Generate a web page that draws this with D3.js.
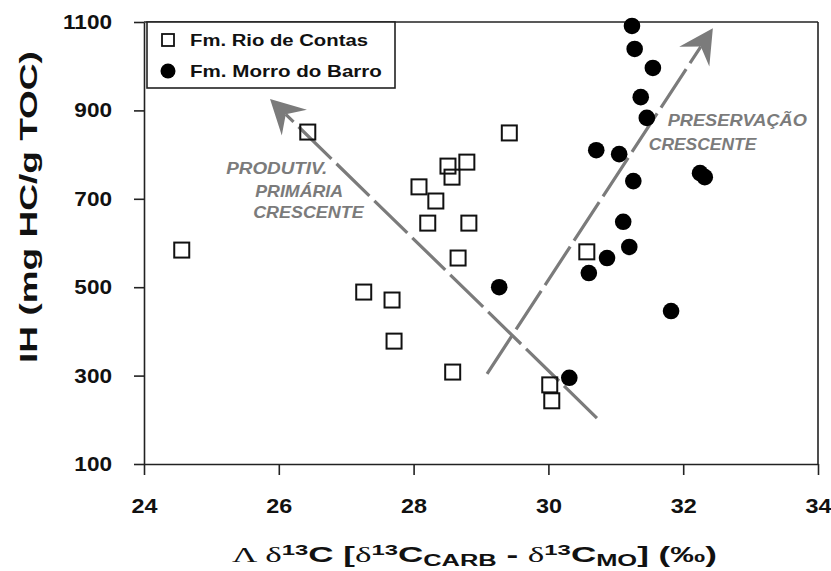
<!DOCTYPE html>
<html>
<head>
<meta charset="utf-8">
<script src="https://cdn.jsdelivr.net/npm/d3@7"></script>
<style>
  html, body { margin: 0; padding: 0; background: #fff; }
  svg { display: block; }
  text { font-family: "Liberation Sans", Arial, sans-serif; }
</style>
</head>
<body>
<svg id="chart" width="831" height="571"></svg>
<script>
// ---------------- DATA ----------------
const xTicks = [24, 26, 28, 30, 32, 34];
const yTicks = [100, 300, 500, 700, 900, 1100];

const seriesNames = ["Fm. Rio de Contas", "Fm. Morro do Barro"];

// Fm. Rio de Contas (open squares)
const rioX = [24.56, 26.43, 29.42, 28.51, 28.79, 28.57, 28.08, 28.33, 28.21, 28.82, 28.66, 27.26, 27.68, 27.71, 28.58, 30.02, 30.05, 30.57];
const rioY = [584, 851, 849, 774, 783, 749, 727, 695, 645, 645, 566, 489, 471, 378, 308, 279, 243, 580];

// Fm. Morro do Barro (filled circles)
const morroX = [31.24, 31.28, 31.55, 31.37, 31.46, 30.71, 31.05, 31.26, 32.25, 32.32, 31.11, 31.20, 30.87, 30.60, 29.27, 31.82, 30.31];
const morroY = [1091, 1039, 996, 930, 883, 810, 801, 740, 758, 749, 648, 591, 566, 532, 500, 446, 295];

// Trend arrows (tail -> tip, data coordinates)
const arrowProdTail = [30.72, 204];
const arrowProdTip  = [25.87, 926];
const arrowPresTail = [29.09, 304];
const arrowPresTip  = [32.44, 1086];

const labelProd = ["PRODUTIV.", "PRIMÁRIA", "CRESCENTE"];
const labelPres = ["PRESERVAÇÃO", "CRESCENTE"];

const yTitle = "IH (mg HC/g TOC)";

// ---------------- DRAW ----------------
const svg = d3.select("#chart");
const x = d3.scaleLinear().domain([24, 34]).range([144, 818]);
const y = d3.scaleLinear().domain([100, 1100]).range([464, 22]);

const AX = "#222";
const GRAY = "#7b7b7b";

function stretch(sel, w) {
  sel.each(function () {
    const bb = this.getBBox();
    const sx = w / bb.width;
    const cur = d3.select(this).attr("transform") || "";
    d3.select(this).attr("transform", cur + ` scale(${sx},1)`);
  });
}

// frame (top + right)
svg.append("line").attr("x1", x(24)).attr("x2", x(34)).attr("y1", y(1100)).attr("y2", y(1100))
  .attr("stroke", AX).attr("stroke-width", 1.6);
svg.append("line").attr("x1", x(34)).attr("x2", x(34)).attr("y1", y(1100)).attr("y2", y(100))
  .attr("stroke", AX).attr("stroke-width", 1.6);

// x axis
const gx = svg.append("g").attr("transform", `translate(0,${y(100)})`)
  .call(d3.axisBottom(x).tickValues(xTicks).tickSize(11).tickSizeOuter(0).tickFormat(d3.format("d")));
gx.select(".domain").attr("stroke", AX).attr("stroke-width", 1.6);
gx.selectAll(".tick line").attr("stroke", AX).attr("stroke-width", 1.6);
gx.selectAll(".tick text")
  .attr("y", 49).attr("dy", 0)
  .attr("font-size", 20).attr("font-weight", "bold").attr("fill", "#111")
  .attr("font-family", "Liberation Sans, Arial, sans-serif")
  .attr("transform", "scale(1.17,1)");

// y axis
const ysx = 1.13;
const gy = svg.append("g").attr("transform", `translate(${x(24)},0)`)
  .call(d3.axisLeft(y).tickValues(yTicks).tickSize(10).tickSizeOuter(0).tickFormat(d3.format("d")));
gy.select(".domain").attr("stroke", AX).attr("stroke-width", 1.6);
gy.selectAll(".tick line").attr("stroke", AX).attr("stroke-width", 1.6);
gy.selectAll(".tick text")
  .attr("x", -32 / ysx)
  .attr("font-size", 20).attr("font-weight", "bold").attr("fill", "#111")
  .attr("font-family", "Liberation Sans, Arial, sans-serif")
  .attr("transform", `scale(${ysx},1)`);

// arrows
function drawArrow(tail, tip) {
  const p0 = [x(tail[0]), y(tail[1])], p1 = [x(tip[0]), y(tip[1])];
  const dx = p0[0] - p1[0], dy = p0[1] - p1[1];
  const L = Math.hypot(dx, dy);
  const ux = dx / L, uy = dy / L;
  const px = -uy, py = ux;
  const notch = 22, back = 34, half = 18;
  svg.append("line")
    .attr("x1", p0[0]).attr("y1", p0[1])
    .attr("x2", p1[0] + ux * notch).attr("y2", p1[1] + uy * notch)
    .attr("stroke", GRAY).attr("stroke-width", 3.2)
    .attr("stroke-dasharray", "46,7");
  const pts = [
    [p1[0], p1[1]],
    [p1[0] + ux * back + px * half, p1[1] + uy * back + py * half],
    [p1[0] + ux * notch, p1[1] + uy * notch],
    [p1[0] + ux * back - px * half, p1[1] + uy * back - py * half]
  ];
  svg.append("path").attr("d", "M" + pts.map(p => p.join(",")).join("L") + "Z")
    .attr("fill", GRAY);
}
drawArrow(arrowProdTail, arrowProdTip);
drawArrow(arrowPresTail, arrowPresTip);

// annotation labels
function annot(txt, dxv, dyv, w) {
  const t = svg.append("text")
    .attr("transform", `translate(${x(dxv)},${y(dyv)})`)
    .attr("font-size", 16).attr("font-weight", "bold").attr("font-style", "italic")
    .attr("fill", GRAY).text(txt);
  stretch(t, w);
}
annot(labelProd[0], 25.22, 756, 101);
annot(labelProd[1], 25.65, 704, 88);
annot(labelProd[2], 25.62, 657, 112);
annot(labelPres[0], 31.77, 865, 140);
annot(labelPres[1], 31.49, 810, 109);

// points: squares
const sq = 15;
svg.append("g").selectAll("rect").data(rioX.map((d, i) => [d, rioY[i]])).join("rect")
  .attr("x", d => x(d[0]) - sq / 2).attr("y", d => y(d[1]) - sq / 2)
  .attr("width", sq).attr("height", sq)
  .attr("fill", "none").attr("stroke", "#111").attr("stroke-width", 2);

// points: circles
svg.append("g").selectAll("circle").data(morroX.map((d, i) => [d, morroY[i]])).join("circle")
  .attr("cx", d => x(d[0])).attr("cy", d => y(d[1])).attr("r", 8.3)
  .attr("fill", "#000");

// legend
const lg = svg.append("g");
lg.append("rect").attr("x", 147).attr("y", 22).attr("width", 248).attr("height", 66)
  .attr("fill", "#fff").attr("stroke", AX).attr("stroke-width", 1.6);
lg.append("rect").attr("x", 162).attr("y", 34).attr("width", 12).attr("height", 12)
  .attr("fill", "none").attr("stroke", "#111").attr("stroke-width", 1.8);
lg.append("circle").attr("cx", 168).attr("cy", 71).attr("r", 7.5).attr("fill", "#000");
const lt1 = lg.append("text").attr("transform", "translate(190,46)")
  .attr("font-size", 17).attr("font-weight", "bold").attr("fill", "#111").text(seriesNames[0]);
stretch(lt1, 178);
const lt2 = lg.append("text").attr("transform", "translate(190,77)")
  .attr("font-size", 17).attr("font-weight", "bold").attr("fill", "#111").text(seriesNames[1]);
stretch(lt2, 192);

// y title
const yt = svg.append("text")
  .attr("transform", "translate(37,207) rotate(-90)")
  .attr("text-anchor", "middle")
  .attr("font-size", 24).attr("font-weight", "bold").attr("fill", "#111")
  .text(yTitle);
(function () {
  const bb = yt.node().getBBox();
  yt.attr("transform", `translate(37,207) rotate(-90) scale(${312 / bb.width},1)`);
})();

// x title
const xt = svg.append("text").attr("transform", "translate(232,562)")
  .attr("font-size", 22).attr("font-weight", "bold").attr("fill", "#111");
const serif = "Liberation Serif, Times New Roman, serif";
xt.append("tspan").attr("font-family", serif).attr("font-weight", "normal").text("Λ ");
xt.append("tspan").attr("font-family", serif).attr("font-weight", "normal").text("δ");
xt.append("tspan").attr("font-size", 15).attr("dy", -7).text("13");
xt.append("tspan").attr("dy", 7).text("C [");
xt.append("tspan").attr("font-family", serif).attr("font-weight", "normal").text("δ");
xt.append("tspan").attr("font-size", 15).attr("dy", -7).text("13");
xt.append("tspan").attr("dy", 7).text("C");
xt.append("tspan").attr("font-size", 16).attr("dy", 4).text("CARB");
xt.append("tspan").attr("dy", -4).text(" - ");
xt.append("tspan").attr("font-family", serif).attr("font-weight", "normal").text("δ");
xt.append("tspan").attr("font-size", 15).attr("dy", -7).text("13");
xt.append("tspan").attr("dy", 7).text("C");
xt.append("tspan").attr("font-size", 16).attr("dy", 4).text("MO");
xt.append("tspan").attr("dy", -4).text("] (‰)");
stretch(xt, 485);
</script>
</body>
</html>
